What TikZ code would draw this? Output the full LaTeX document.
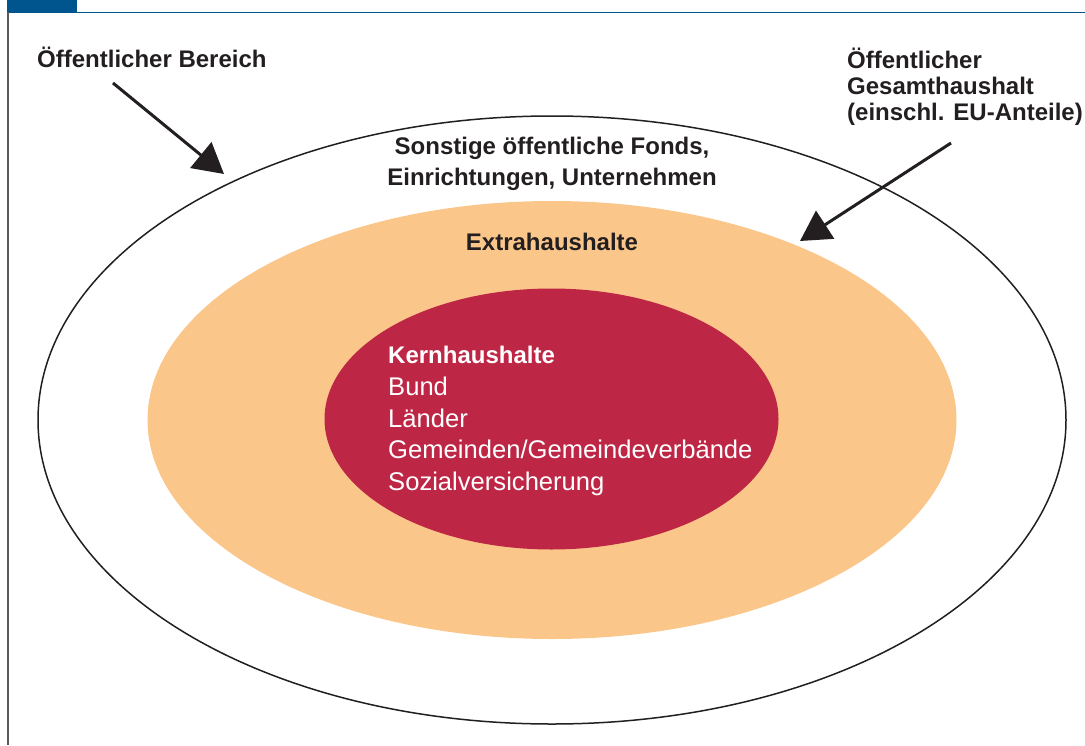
\documentclass[tikz,border=0pt]{standalone}
\usepackage{fontspec}
\setmainfont{Liberation Sans}
\usetikzlibrary{arrows.meta}
\definecolor{frameblue}{HTML}{00558F}
\definecolor{framegray}{HTML}{5A5A5A}
\definecolor{inkdark}{HTML}{231F20}
\definecolor{extraorange}{HTML}{FBC689}
\definecolor{kernred}{HTML}{BE2646}
\tikzset{
  boldlbl/.style={font=\fontsize{24}{26}\selectfont\bfseries, text=inkdark, inner sep=0pt},
  kernbold/.style={font=\fontsize{24}{26}\selectfont\bfseries, text=white, inner sep=0pt, anchor=base west},
  kernreg/.style={font=\fontsize{25.6}{28}\selectfont, text=white, inner sep=0pt, anchor=base west},
  bigarrow/.style={line width=3pt, draw=inkdark, -{Triangle[length=30pt,width=33pt]}}
}
\begin{document}
\begin{tikzpicture}[x=1pt,y=-1pt]
\useasboundingbox (0,0) rectangle (1085,745);
% frame
\fill[frameblue] (7,0) rectangle (77,12);
\draw[frameblue, line width=1.6pt] (7,12.5) -- (1085,12.5);
\draw[framegray, line width=1.6pt] (8,12) -- (8,745);
% ellipses
\draw[inkdark, line width=1.5pt] (552,420) ellipse [x radius=514, y radius=304];
\fill[extraorange] (552,420) ellipse [x radius=404.5, y radius=219];
\fill[kernred] (551.5,419) ellipse [x radius=227, y radius=130.5];
% labels
\node[boldlbl, anchor=base west] (oeb) at (37,67) {Öffentlicher Bereich};
\node[boldlbl, anchor=base west] (ogh1) at (847,68) {Öffentlicher};
\node[boldlbl, anchor=base west] (ogh2) at (847,94) {Gesamthaushalt};
\node[boldlbl, anchor=base west] (ogh3) at (847,120) {(einschl. EU-Anteile)};
\node[boldlbl, anchor=base] (sonst1) at (552,154) {Sonstige öffentliche Fonds,};
\node[boldlbl, anchor=base] (sonst2) at (552,185) {Einrichtungen, Unternehmen};
\node[boldlbl, anchor=base] (extra) at (552,250) {Extrahaushalte};
\node[kernbold] (kern) at (388,363) {Kernhaushalte};
\node[kernreg] (bund) at (388,395) {Bund};
\node[kernreg] (laender) at (388,427) {Länder};
\node[kernreg] (gem) at (388,458) {Gemeinden/Gemeindeverbände};
\node[kernreg] (sozial) at (388,490) {Sozialversicherung};
% arrows
\coordinate (a1s) at (113,83);
\coordinate (a1e) at (224,174);
\coordinate (a2s) at (951,143);
\coordinate (a2e) at (800,241);
\draw[bigarrow] (a1s) -- (a1e);
\draw[bigarrow] (a2s) -- (a2e);
\end{tikzpicture}
\end{document}
